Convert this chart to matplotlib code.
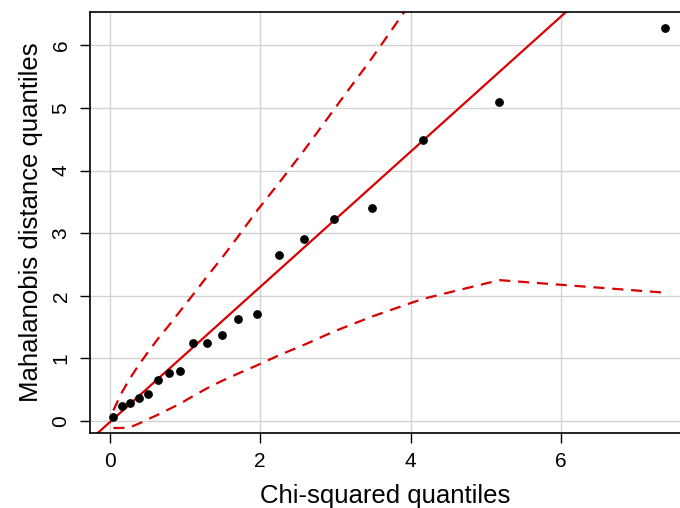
import matplotlib
matplotlib.use("Agg")
import matplotlib.pyplot as plt

plt.rcParams["font.family"] = ["Liberation Sans", "DejaVu Sans"]

# Chi-squared quantiles (x) vs. ordered Mahalanobis distances (y)
chisq_q = [0.05, 0.16, 0.27, 0.39, 0.51, 0.64, 0.79, 0.94, 1.11, 1.29,
           1.49, 1.71, 1.96, 2.25, 2.59, 2.98, 3.49, 4.16, 5.18, 7.38]
maha_q = [0.06, 0.24, 0.29, 0.37, 0.43, 0.65, 0.77, 0.80, 1.24, 1.25,
          1.37, 1.63, 1.71, 2.65, 2.90, 3.22, 3.40, 4.48, 5.09, 6.27]

# Confidence envelope
env_upper = [0.17, 0.45, 0.68, 0.90, 1.10, 1.31, 1.53, 1.76, 2.02, 2.30,
             2.60, 2.95, 3.36, 3.80, 4.33, 4.97, 5.80, 6.95, 8.70, 12.5]
env_lower = [-0.11, -0.11, -0.10, -0.04, 0.03, 0.10, 0.19, 0.28, 0.40, 0.52,
             0.64, 0.76, 0.89, 1.05, 1.22, 1.43, 1.67, 1.95, 2.25, 2.05]

# Reference line
line_intercept = -0.02
line_slope = 1.08

RED = "#d80000"
DASH = (0, (5, 3.5))

fig = plt.figure(figsize=(6.8, 5.08), dpi=100)
ax = fig.add_axes([90 / 680, 75 / 508, 590 / 680, 421 / 508])

ax.grid(True, color="#d3d3d3", linewidth=1.0)
ax.set_axisbelow(True)

ax.axline((0, line_intercept), slope=line_slope, color=RED, linewidth=1.6)
ax.plot(chisq_q, env_upper, color=RED, linewidth=1.6, linestyle=DASH)
ax.plot(chisq_q, env_lower, color=RED, linewidth=1.6, linestyle=DASH)
ax.scatter(chisq_q, maha_q, s=28, color="black", zorder=3)

ax.set_xlim(-0.26, 7.58)
ax.set_ylim(-0.19, 6.53)
ax.set_xticks([0, 2, 4, 6])
ax.set_yticks([0, 1, 2, 3, 4, 5, 6])

for side in ["left", "bottom", "top"]:
    ax.spines[side].set_linewidth(1.2)
ax.spines["right"].set_visible(False)

ax.tick_params(axis="both", direction="out", length=7, width=1.0,
               labelsize=15, pad=7)
for lbl in ax.get_yticklabels():
    lbl.set_rotation(90)
    lbl.set_va("center")

ax.set_xlabel("Chi-squared quantiles", fontsize=18.5, labelpad=9)
ax.set_ylabel("Mahalanobis distance quantiles", fontsize=18.5, labelpad=6)

fig.savefig("out.png", dpi=100)
